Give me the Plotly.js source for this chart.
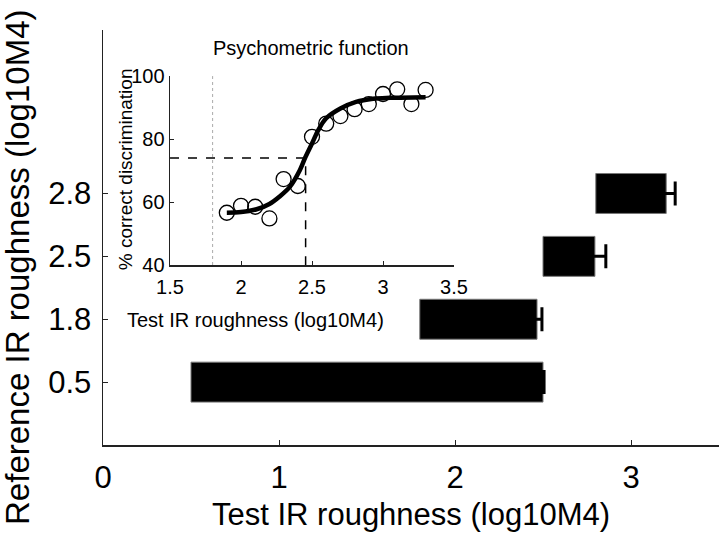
<!DOCTYPE html>
<html>
<head>
<meta charset="utf-8">
<script src="https://cdn.plot.ly/plotly-3.0.1.min.js"></script>
<style>
  html, body { margin: 0; padding: 0; background: #fff; }
  #chart { width: 720px; height: 535px; }
</style>
</head>
<body>
<div id="chart"></div>
<script>
// main chart: reference value -> discrimination threshold
const refLabels = ['0.5', '1.8', '2.5', '2.8'];
const refPos = [1, 2, 3, 4];
const refValues = [0.5, 1.8, 2.5, 2.8];
const thresholds = [2.50, 2.466, 2.795, 3.20];
const thresholdErr = [0.006, 0.028, 0.062, 0.051];

// inset: psychometric function for reference 1.8
const testLevels = [1.9, 2.0, 2.1, 2.2, 2.3, 2.4, 2.5, 2.6, 2.7, 2.8, 2.9, 3.0, 3.1, 3.2, 3.3];
const pctCorrect = [56.6, 58.8, 58.5, 54.8, 67.3, 65.1, 80.7, 84.9, 87.3, 89.5, 91.1, 94.3, 95.8, 91.1, 95.6];
const fitX = [1.9, 2.0, 2.11, 2.2, 2.27, 2.345, 2.415, 2.45, 2.5, 2.545, 2.6, 2.7, 2.81, 2.93, 3.05, 3.3];
const fitY = [56.6, 56.8, 57.7, 59.4, 61.7, 64.9, 70.2, 73.9, 78.6, 82.9, 86.6, 89.7, 91.8, 92.8, 93.1, 93.3];
const insetRef = 1.8;
const criterion = 74;
const insetThreshold = 2.455;

const font = 'Liberation Sans, Arial, sans-serif';
const axisColor = '#222';

const bars = {
  type: 'bar',
  orientation: 'h',
  y: refPos,
  base: refValues,
  x: thresholds.map((t, i) => t - refValues[i]),
  width: 0.635,
  marker: { color: '#000', line: { color: '#777', width: 1 } },
  hoverinfo: 'skip'
};

const errors = {
  type: 'scatter',
  mode: 'markers',
  x: thresholds,
  y: refPos,
  marker: { opacity: 0, size: 1 },
  error_x: { type: 'data', array: thresholdErr, color: '#000', thickness: 3, width: 12 },
  hoverinfo: 'skip'
};

const refLine = {
  type: 'scatter', mode: 'lines',
  x: [insetRef, insetRef], y: [40, 100],
  xaxis: 'x2', yaxis: 'y2',
  line: { color: '#aaa', width: 1, dash: 'dot' }
};

const critLine = {
  type: 'scatter', mode: 'lines',
  x: [1.5, insetThreshold, insetThreshold], y: [criterion, criterion, 40],
  xaxis: 'x2', yaxis: 'y2',
  line: { color: '#000', width: 1.5, dash: 'dash' }
};

const points = {
  type: 'scatter', mode: 'markers',
  x: testLevels, y: pctCorrect,
  xaxis: 'x2', yaxis: 'y2',
  marker: { symbol: 'circle-open', size: 15, color: '#000', line: { width: 1.3 } }
};

const fit = {
  type: 'scatter', mode: 'lines',
  x: fitX, y: fitY,
  xaxis: 'x2', yaxis: 'y2',
  line: { color: '#000', width: 4.5, shape: 'spline' }
};

// annotation helper: centred text in paper coords
const label = (text, x, y, size, angle) => ({
  text, x, y, xref: 'paper', yref: 'paper',
  xanchor: 'center', yanchor: 'middle',
  textangle: angle || 0, showarrow: false, font: { size }
});

const layout = {
  width: 720, height: 535,
  margin: { l: 103, r: 1, t: 30, b: 90 },
  paper_bgcolor: '#fff', plot_bgcolor: '#fff',
  showlegend: false,
  font: { family: font, color: '#000' },
  xaxis: {
    range: [0, 3.5], tickvals: [0, 1, 2, 3],
    ticks: 'inside', ticklen: 5, tickcolor: axisColor,
    showline: true, linecolor: axisColor, linewidth: 1.5,
    showgrid: false, zeroline: false,
    ticklabelstandoff: 4,
    tickfont: { size: 31 }
  },
  yaxis: {
    range: [0, 6.6], tickvals: refPos, ticktext: refLabels,
    ticks: 'inside', ticklen: 5, tickcolor: axisColor,
    showline: true, linecolor: axisColor, linewidth: 1.5,
    showgrid: false, zeroline: false,
    ticklabelstandoff: 4,
    tickfont: { size: 31 }
  },
  xaxis2: {
    domain: [0.1088, 0.5698], anchor: 'y2',
    range: [1.5, 3.5], tickvals: [1.5, 2, 2.5, 3, 3.5],
    ticks: 'inside', ticklen: 4, tickcolor: axisColor,
    showline: true, linecolor: axisColor, linewidth: 1.5,
    showgrid: false, zeroline: false,
    ticklabelstandoff: 3,
    tickfont: { size: 20 }
  },
  yaxis2: {
    domain: [0.4337, 0.889], anchor: 'x2',
    range: [40, 100], tickvals: [40, 60, 80, 100],
    ticks: 'inside', ticklen: 4, tickcolor: axisColor,
    showline: true, linecolor: axisColor, linewidth: 1.5,
    showgrid: false, zeroline: false,
    tickfont: { size: 20 }
  },
  annotations: [
    label('Test IR roughness (log10M4)', 0.5, -0.168, 31),
    label('Reference IR roughness (log10M4)', -0.138, 0.429, 33, -90),
    label('Psychometric function', 0.338, 0.957, 20),
    label('Test IR roughness (log10M4)', 0.248, 0.301, 20),
    label('% correct discrimination', 0.036, 0.665, 19, -90)
  ]
};

Plotly.newPlot('chart', [bars, errors, refLine, critLine, points, fit], layout, { displayModeBar: false, staticPlot: true });
</script>
</body>
</html>
